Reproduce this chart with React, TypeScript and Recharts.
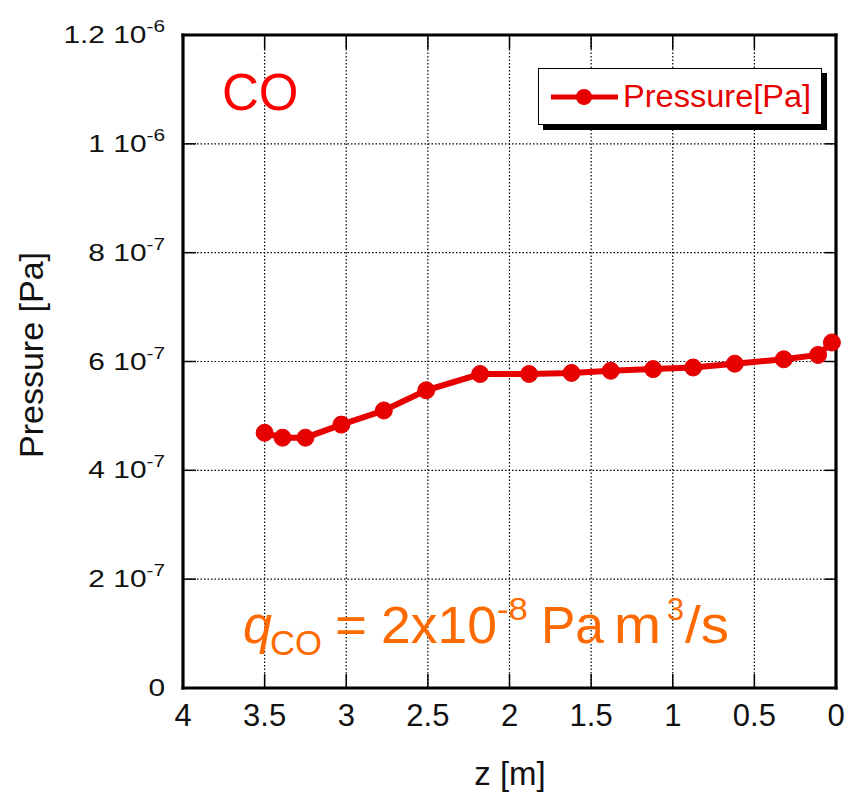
import React from "react";
import { LineChart, Line, XAxis, YAxis, CartesianGrid, Legend } from "recharts";

const zPositions = [3.5, 3.39, 3.25, 3.03, 2.77, 2.51, 2.18, 1.88, 1.62, 1.38, 1.12, 0.875, 0.62, 0.32, 0.11, 0.025];
const pressures = [4.69e-7, 4.6e-7, 4.6e-7, 4.84e-7, 5.1e-7, 5.47e-7, 5.77e-7, 5.77e-7, 5.79e-7, 5.83e-7, 5.86e-7, 5.89e-7, 5.96e-7, 6.04e-7, 6.12e-7, 6.35e-7];

const xTicks = [0, 0.5, 1, 1.5, 2, 2.5, 3, 3.5, 4];
const xTickLabels = ["0", "0.5", "1", "1.5", "2", "2.5", "3", "3.5", "4"];
const yTicks = [0, 2e-7, 4e-7, 6e-7, 8e-7, 1e-6, 1.2e-6];
const yTickMantissa = ["0", "2 10", "4 10", "6 10", "8 10", "1 10", "1.2 10"];
const yTickExponent = ["", "-7", "-7", "-7", "-7", "-6", "-6"];

const RED = "#e60000";
const ORANGE = "#ff6a00";
const FONT = "'Liberation Sans', Arial, sans-serif";

const data = zPositions.map((z, i) => ({ z, p: pressures[i] }));

const axisLine = { stroke: "#000", strokeWidth: 3.2, strokeLinecap: "square" as const };

// left axis: stretched labels + inward tick
function LeftTick(props: any) {
  const { x, y, index } = props;
  return (
    <g>
      <line x1={x} y1={y} x2={x + 13} y2={y} stroke="#000" strokeWidth={1.5} />
      <g transform={`translate(${x - 18},${y + 8}) scale(1.3,1)`}>
        <text x={0} y={0} textAnchor="end" fontSize={23} fill="#111" fontFamily={FONT}>
          {yTickMantissa[index]}
          {yTickExponent[index] && (
            <tspan fontSize={16} dy={-11}>
              {yTickExponent[index]}
            </tspan>
          )}
        </text>
      </g>
    </g>
  );
}

function RightTick(props: any) {
  const { x, y } = props;
  return <line x1={x} y1={y} x2={x - 11} y2={y} stroke="#000" strokeWidth={1.5} />;
}

function BottomTick(props: any) {
  const { x, y, index } = props;
  return (
    <g>
      <line x1={x} y1={y} x2={x} y2={y - 14} stroke="#000" strokeWidth={1.5} />
      <text x={x} y={y + 38} textAnchor="middle" fontSize={31} fill="#111" fontFamily={FONT}>
        {xTickLabels[xTicks.indexOf(props.payload.value)] ?? xTickLabels[index]}
      </text>
    </g>
  );
}

function TopTick(props: any) {
  const { x, y } = props;
  return <line x1={x} y1={y} x2={x} y2={y + 14} stroke="#000" strokeWidth={1.5} />;
}

function LegendBox() {
  return (
    <div
      style={{
        width: 284,
        height: 57,
        boxSizing: "border-box",
        background: "#fff",
        border: "1.5px solid #000",
        boxShadow: "5px 5px 0 #000",
        display: "flex",
        alignItems: "center",
        fontFamily: FONT,
      }}
    >
      <svg width={72} height={22} style={{ marginLeft: 10 }}>
        <line x1={2} y1={11} x2={69} y2={11} stroke={RED} strokeWidth={5} />
        <circle cx={35} cy={11} r={8} fill={RED} />
      </svg>
      <span
        style={{
          color: RED,
          fontSize: 31,
          marginLeft: 2,
          display: "inline-block",
          transform: "scaleX(1.05)",
          transformOrigin: "left center",
        }}
      >
        Pressure[Pa]
      </span>
    </div>
  );
}

// annotation pieces: [text, left, advance width, baseline, fontSize, italic]
const qLabelParts: [string, number, number, number, number, boolean][] = [
  ["q", 243, 29, 643, 51, true],
  ["CO", 270, 52, 655, 35, false],
  ["=", 335, 32, 643, 51, false],
  ["2x10", 381, 116, 643, 51, false],
  ["-8", 497, 31, 620, 31, false],
  ["Pa", 541, 63, 643, 51, false],
  ["m", 614, 47, 643, 51, false],
  ["3", 667, 17, 620, 31, false],
  ["/s", 685, 44, 643, 51, false],
];

export default function App() {
  return (
    <div style={{ position: "absolute", left: 0, top: 0, width: 848, height: 796, background: "#fff" }}>
      <LineChart width={848} height={796} data={data} margin={{ top: 34, right: 11, left: 0, bottom: 0 }}>
        <CartesianGrid stroke="#000" strokeDasharray="1.5 2" strokeWidth={1.2} />
        <XAxis
          dataKey="z"
          type="number"
          domain={[0, 4]}
          ticks={xTicks}
          reversed
          height={108}
          tickSize={0}
          tickMargin={0}
          tickLine={false}
          axisLine={axisLine}
          tick={<BottomTick />}
          interval={0}
        />
        <XAxis
          xAxisId="top"
          orientation="top"
          dataKey="z"
          type="number"
          domain={[0, 4]}
          ticks={xTicks}
          reversed
          height={1}
          tickSize={0}
          tickMargin={0}
          tickLine={false}
          axisLine={axisLine}
          tick={<TopTick />}
          interval={0}
          allowDataOverflow
        />
        <YAxis
          type="number"
          domain={[0, 1.2e-6]}
          ticks={yTicks}
          width={183}
          tickSize={0}
          tickMargin={0}
          tickLine={false}
          axisLine={axisLine}
          tick={<LeftTick />}
          interval={0}
          allowDataOverflow
        />
        <YAxis
          yAxisId="right"
          orientation="right"
          type="number"
          domain={[0, 1.2e-6]}
          ticks={yTicks}
          width={1}
          tickSize={0}
          tickMargin={0}
          tickLine={false}
          axisLine={axisLine}
          tick={<RightTick />}
          interval={0}
          allowDataOverflow
        />
        <Legend
          layout="vertical"
          align="center"
          verticalAlign="middle"
          content={() => <LegendBox />}
          wrapperStyle={{ left: 538, top: 68, width: 292, height: 64 }}
        />
        <Line
          type="linear"
          dataKey="p"
          name="Pressure[Pa]"
          stroke={RED}
          strokeWidth={6}
          dot={{ r: 8.5, fill: RED, stroke: RED, strokeWidth: 1 }}
          isAnimationActive={false}
        />
      </LineChart>
      <svg
        width={848}
        height={796}
        style={{ position: "absolute", left: 0, top: 0, pointerEvents: "none" }}
      >
        <text x={222} y={110} fontSize={51} fill="#ff0000" fontFamily={FONT}>
          CO
        </text>
        <text
          x={43}
          y={355}
          transform="rotate(-90, 43, 355)"
          textAnchor="middle"
          fontSize={34}
          fill="#111"
          fontFamily={FONT}
        >
          Pressure [Pa]
        </text>
        <text x={510} y={785} textAnchor="middle" fontSize={33} fill="#111" fontFamily={FONT}>
          z [m]
        </text>
        {qLabelParts.map(([t, left, len, base, size, italic]) => (
          <text
            key={t}
            x={left}
            y={base}
            fontSize={size}
            fontStyle={italic ? "italic" : "normal"}
            textLength={len}
            lengthAdjust="spacingAndGlyphs"
            fill={ORANGE}
            fontFamily={FONT}
          >
            {t}
          </text>
        ))}
      </svg>
    </div>
  );
}
